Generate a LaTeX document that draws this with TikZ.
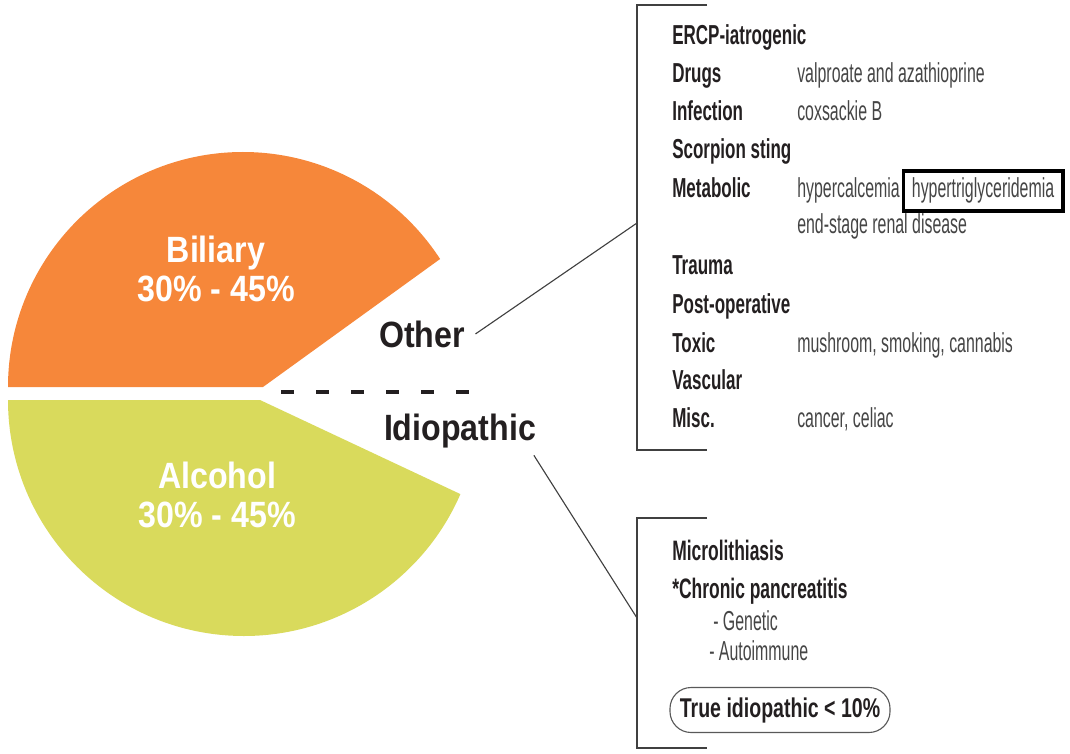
\documentclass[tikz,border=0pt]{standalone}
\usepackage{fontspec}
\setmainfont{Liberation Sans}
\newfontfamily\bigfont{Liberation Sans}[FakeStretch=0.88]
\newfontfamily\itemfont{Liberation Sans}[FakeStretch=0.62]
\newfontfamily\notefont{Liberation Sans}[FakeStretch=0.58]
\newfontfamily\pillfont{Liberation Sans}[FakeStretch=0.72]
\definecolor{biliary}{HTML}{F6873A}
\definecolor{alcohol}{HTML}{D9DA5C}
\definecolor{ink}{HTML}{231F20}
\definecolor{notegray}{HTML}{454545}
\definecolor{rulegray}{HTML}{404040}

\begin{document}
\begin{tikzpicture}[x=0.025cm, y=-0.025cm,
    slicetext/.style={text=white, align=center, font=\bigfont\bfseries\fontsize{26}{27.7}\selectfont},
    causetext/.style={text=ink, anchor=base, font=\bigfont\bfseries\fontsize{26}{28}\selectfont},
    item/.style={text=ink, anchor=base west, inner sep=0pt, font=\itemfont\bfseries\fontsize{19.5}{22}\selectfont},
    note/.style={text=notegray, anchor=base west, inner sep=0pt, font=\notefont\fontsize{19.5}{22}\selectfont},
    bracket/.style={rulegray, line width=1pt},
    link/.style={rulegray, line width=0.8pt}]
        % Keep the page at the size of the figure
        \useasboundingbox (0,0) rectangle (1070,754);
        % Draw the two slices
        \fill [biliary] (8,387) arc [start angle=180, end angle=327, radius=235] -- (263,387) -- cycle;
        \fill [alcohol] (8,400) arc [start angle=180, end angle=23.5, radius=236] -- (260,400) -- cycle;
        \node [slicetext] (biliarytext) at (216,269) {Biliary\\30\% - 45\%};
        \node [slicetext] (alcoholtext) at (217,495) {Alcohol\\30\% - 45\%};
        % Split between the other and the idiopathic part
        \draw [ink, line width=2.4pt, dash pattern=on 9.3pt off 15.6pt] (281,392) -- (470,392);
        \node [causetext] (other) at (422,347) {Other};
        \node [causetext] (idio) at (460,440) {Idiopathic};
        % Bracket with the other causes
        \draw [bracket] (707,5) -- (637,5) -- (637,450) -- (707,450);
        \coordinate (otherjoin) at (637,223);
        \draw [link] ([xshift=4pt]other.east) -- (otherjoin);
        \node [item] (ercp) at (672,45) {ERCP-iatrogenic};
        \node [item] (drugs) at (672,83) {Drugs};
        \node [note] (drugsnote) at (797,83) {valproate and azathioprine};
        \node [item] (infection) at (672,121) {Infection};
        \node [note] (infectionnote) at (797,121) {coxsackie B};
        \node [item] (scorpion) at (672,159) {Scorpion sting};
        \node [item] (metabolic) at (672,198) {Metabolic};
        \node [note] (hypercalc) at (797,198) {hypercalcemia};
        \node [note, draw=black, line width=2.8pt, inner xsep=6pt, inner ysep=5pt] (hypertri) at ([xshift=1pt]hypercalc.base east) {hypertriglyceridemia};
        \node [note] (renal) at (797,234) {end-stage renal disease};
        \node [item] (trauma) at (672,274) {Trauma};
        \node [item] (postop) at (672,313) {Post-operative};
        \node [item] (toxic) at (672,352) {Toxic};
        \node [note] (toxicnote) at (797,352) {mushroom, smoking, cannabis};
        \node [item] (vascular) at (672,389) {Vascular};
        \node [item] (misc) at (672,427) {Misc.};
        \node [note] (miscnote) at (797,427) {cancer, celiac};
        % Bracket with the idiopathic causes
        \draw [bracket] (707,518) -- (637,518) -- (637,748) -- (707,748);
        \coordinate (idiojoin) at (637,618);
        \draw [link] ([xshift=-5pt, yshift=-2pt]idio.south east) -- (idiojoin);
        \node [item, font=\itemfont\bfseries\fontsize{20}{22}\selectfont] (micro) at (672,560) {Microlithiasis};
        \node [item, font=\itemfont\bfseries\fontsize{20}{22}\selectfont] (chronic) at (672,598) {*Chronic pancreatitis};
        \node [note] (genetic) at (713,630) {- Genetic};
        \node [note] (autoimmune) at (709,660) {- Autoimmune};
        \node [draw=gray!70!black, line width=0.8pt, rounded corners=15pt, minimum height=32pt, inner xsep=7pt, text=ink,
               font=\pillfont\bfseries\fontsize{19.3}{22}\selectfont] (trueidio) at (780,710) {True idiopathic < 10\%};
    \end{tikzpicture}
\end{document}
